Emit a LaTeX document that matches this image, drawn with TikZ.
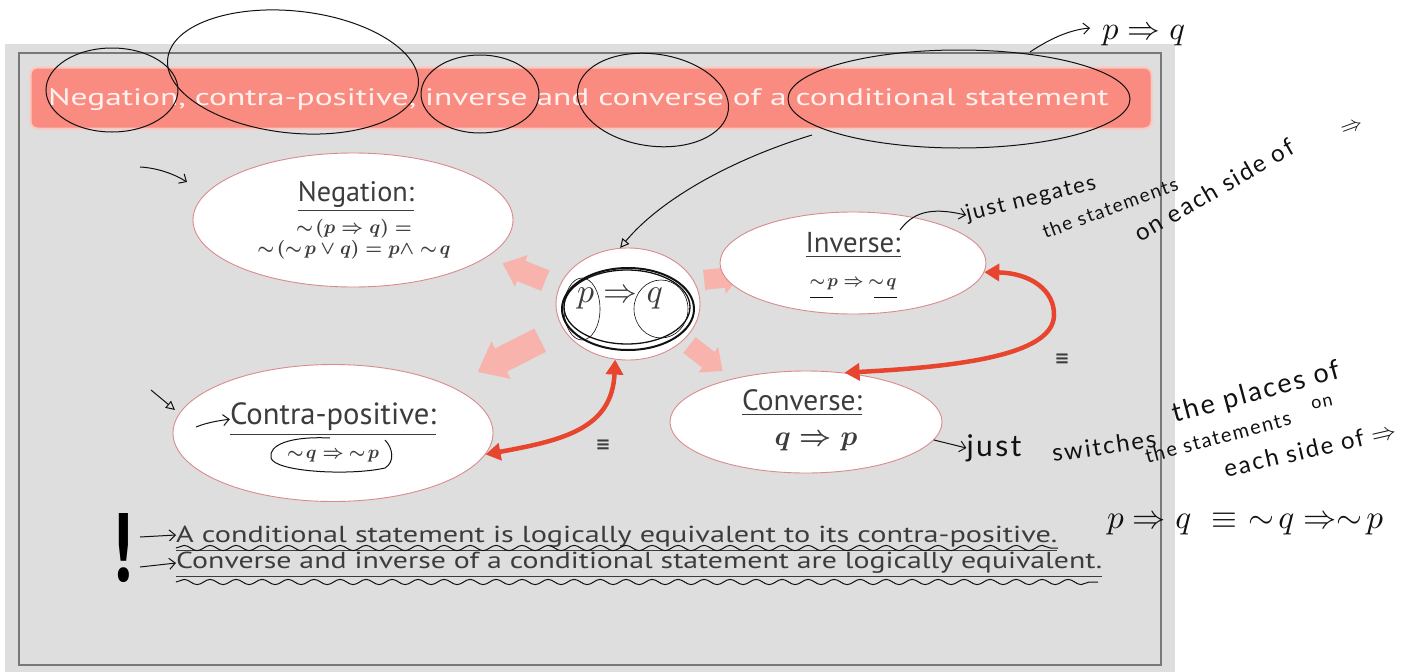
\documentclass[tikz,border=0pt]{standalone}
\usepackage{fontspec}
\usepackage{graphicx}
\setmainfont{PT Sans}
\newfontfamily\hand{Lato}[LetterSpace=8]
\newfontfamily\dejavu{DejaVu Sans}
\usetikzlibrary{shapes.geometric,arrows.meta,decorations.pathmorphing}
\definecolor{bggray}{HTML}{DEDEDE}
\definecolor{framegray}{HTML}{787878}
\definecolor{bannerfill}{HTML}{F98B80}
\definecolor{bannerline}{HTML}{FBC7BF}
\definecolor{titletext}{HTML}{FFF1EE}
\definecolor{ellline}{HTML}{DB8A8E}
\definecolor{palearrow}{HTML}{F7B3AC}
\definecolor{redarrow}{HTML}{E8452F}
\definecolor{slidetext}{HTML}{3C3C3C}
\definecolor{ink}{HTML}{111111}
\newcommand{\fw}[2]{\resizebox{#1}{!}{#2}}
\newcommand{\fwh}[3]{\resizebox{#1}{#2}{#3}}
\newcommand{\hs}[1]{\fontsize{#1}{#1}\selectfont}
% block arrow: x, y, angle, length, head length, head half width, shaft half width
\newcommand{\blockarrow}[7]{%
  \fill[palearrow, shift={(#1,#2)}, rotate=#3]
    (-#4/2,-#7) -- (#4/2-#5,-#7) -- (#4/2-#5,-#6) -- (#4/2,0)
    -- (#4/2-#5,#6) -- (#4/2-#5,#7) -- (-#4/2,#7) -- cycle;}
\tikzset{
  ell/.style={ellipse, draw=ellline, fill=white, line width=0.9pt, inner sep=0pt},
  slide/.style={text=slidetext, inner sep=0pt},
  redlink/.style={draw=redarrow, line width=4.5pt, {Triangle[length=15pt,width=17pt]}-{Triangle[length=15pt,width=17pt]}},
  inkline/.style={draw=ink, line width=1pt},
  inkarrow/.style={inkline, -{Straight Barb[length=6pt,width=11pt]}},
  handtxt/.style={text=ink, inner sep=0pt, font=\hand},
  wavy/.style={inkline, decorate, decoration={snake, segment length=26pt, amplitude=2.6pt}}
}
\begin{document}
\begin{tikzpicture}[x=1pt,y=-1pt]
\useasboundingbox (0,0) rectangle (1411,672);
\fill[white] (0,0) rectangle (1411,672);
\fill[bggray] (5,44) rectangle (1175,672);
\draw[framegray, line width=1.6pt] (19,53) rectangle (1161,665);

% banner
\node[draw=bannerline, fill=bannerfill, line width=2pt, rounded corners=7pt,
      minimum width=1121pt, minimum height=61pt, inner sep=0pt] (banner) at (591,98) {};
\node[text=titletext, inner sep=0pt, anchor=base west] (title) at (48,105)
  {\fwh{1060pt}{17pt}{Negation, contra-positive, inverse and converse of a conditional statement}};

% pale block arrows
\blockarrow{524}{272}{158}{46}{20}{17}{11}
\blockarrow{509}{356}{207}{70}{26}{21}{13}
\blockarrow{722}{278}{6}{36}{16}{16}{10}
\blockarrow{706}{358}{-38}{42}{18}{16}{10}

% ellipses
\node[ell, minimum width=320pt, minimum height=134pt] (neg) at (353,220) {};
\node[ell, minimum width=144pt, minimum height=112pt] (cen) at (628,304) {};
\node[ell, minimum width=266pt, minimum height=102pt] (inv) at (853,263) {};
\node[ell, minimum width=272pt, minimum height=102pt] (conv) at (806,422) {};
\node[ell, minimum width=320pt, minimum height=137pt] (contra) at (333,433) {};

% red double arrows
\draw[redlink] (contra.-8) .. controls (565,440) and (612,428) .. (cen.-103);
\draw[redlink] (conv.52) .. controls (975,366) and (1052,352) .. (1054,316)
   .. controls (1055,290) and (1030,273) .. (inv.-4);
\node[slide] (eq1) at (603,445) {\fw{15pt}{\dejavu\bfseries ≡}};
\node[slide] (eq2) at (1062,359) {\fw{15pt}{\dejavu\bfseries ≡}};

% texts in ellipses
\node[slide, anchor=base] (negT) at (356,201) {\fw{116pt}{\underline{Negation:}}};
\node[slide] (negF1) at (354,229) {\fw{116pt}{\boldmath$\sim\!(p\Rightarrow q)=$}};
\node[slide] (negF2) at (354,250) {\fw{193pt}{\boldmath$\sim\!(\sim\! p\vee q)=p\wedge\sim\! q$}};
\node[slide] (pq) at (620,298) {\fw{86pt}{$p\Rightarrow q$}};
\node[slide, anchor=base] (invT) at (853,252) {\fw{95pt}{\underline{Inverse:}}};
\node[slide] (invF) at (853,284) {\fw{87pt}{\boldmath$\sim\! p\Rightarrow\ \sim\! q$}};
\node[slide, anchor=base] (convT) at (802,410) {\fw{120pt}{\underline{Converse:}}};
\node[slide] (convF) at (816,442) {\fw{83pt}{\boldmath$q\Rightarrow p$}};
\node[slide, anchor=base] (contraT) at (333,424) {\fw{206pt}{\underline{Contra-positive:}}};
\node[slide] (contraF) at (333,456) {\fw{92pt}{\boldmath$\sim\! q\Rightarrow\ \sim\! p$}};

% bottom statements
\node[text=black, inner sep=0pt] (bang) at (123,548) {\fwh{20pt}{68pt}{\bfseries !}};
\node[slide, anchor=base west] (st1) at (176,542)
  {\fwh{881pt}{16.5pt}{\underline{A conditional statement is logically equivalent to its contra-positive.}}};
\node[slide, anchor=base west] (st2) at (176,568)
  {\fwh{926pt}{16.5pt}{\underline{Converse and inverse of a conditional statement are logically equivalent.}}};

% ---------- handwritten annotations ----------
% circles around title words
\draw[inkline] (112,90) ellipse [x radius=66pt, y radius=42pt];
\draw[inkline, rotate around={-6:(293,72)}] (293,72) ellipse [x radius=126pt, y radius=61pt];
\draw[inkline] (480,94) ellipse [x radius=59pt, y radius=39pt];
\draw[inkline, rotate around={-8:(653,100)}] (653,100) ellipse [x radius=76pt, y radius=46pt];
\draw[inkline] (959,99) ellipse [x radius=171pt, y radius=49pt];
\coordinate (c5top) at (1030,52);
\coordinate (c5bot) at (812,135);
\node[handtxt, anchor=west] (pq1) at (1102,36) {\fw{83pt}{$p\Rightarrow q$}};
\draw[inkarrow] (c5top) .. controls (1048,40) and (1068,30) .. (1090,28);
\draw[inkline, -{Triangle[open,length=9pt,width=9pt]}] (c5bot) .. controls (730,160) and (660,200) .. (cen.98);

% circles on p => q
\draw[inkline, line width=2pt] (628,309) ellipse [x radius=66pt, y radius=41pt];
\draw[inkline, line width=1.3pt] (627,307) ellipse [x radius=63pt, y radius=37pt];
\draw[inkline, line width=0.6pt] (582,309) ellipse [x radius=18pt, y radius=31pt];
\draw[inkline, line width=0.6pt] (661,309) ellipse [x radius=27pt, y radius=29pt];

% left arrows
\coordinate (a1s) at (140,167);
\coordinate (a1e) at (187,182);
\draw[inkarrow] (a1s) .. controls (158,168) and (174,174) .. (a1e);
\coordinate (a2s) at (151,390);
\coordinate (a2e) at (175,410);
\draw[inkline, -{Triangle[open,length=9pt,width=9pt]}] (a2s) -- (a2e);
\coordinate (a3s) at (196,427);
\draw[inkarrow] (a3s) .. controls (206,423) and (216,421) .. (contraT.west);
\draw[inkline] (330,438) .. controls (290,436) and (268,445) .. (271,458)
   .. controls (275,472) and (350,476) .. (385,468) .. controls (395,462) and (393,448) .. (385,440);

% inverse underlines
\draw[inkline, line width=0.9pt] (810,297) -- (833,297);
\draw[inkline, line width=0.9pt] (874,297) -- (897,297);

% inverse note
\coordinate (invn) at (900,230);
\node[handtxt, rotate=14] (n1) at (1031,199) {\hs{22}just negates};
\draw[inkarrow] (invn) .. controls (912,214) and (928,206) .. (n1.west);
\node[handtxt, rotate=20] (n2) at (1110,208) {\hs{19}the statements};
\node[handtxt, rotate=30] (n3) at (1214,190) {\hs{24}on each side of};
\node[handtxt, rotate=20] (n4) at (1352,128) {\fw{22pt}{$\Rightarrow$}};

% converse note
\node[handtxt] (m1) at (994,448) {\hs{30}just};
\draw[inkarrow] (conv.-8) -- (m1.west);
\node[handtxt, rotate=8] (m2) at (1104,446) {\hs{24}switches};
\node[handtxt, rotate=15] (m3) at (1256,393) {\hs{27}the places of};
\node[handtxt, rotate=15] (m4) at (1218,437) {\hs{20}the statements};
\node[handtxt, rotate=12] (m5) at (1322,403) {\hs{18}on};
\node[handtxt, rotate=13] (m6) at (1310,449) {\hs{24}each side of $\Rightarrow$};
\node[handtxt] (m7) at (1245,524) {\fw{276pt}{$p\Rightarrow q\ \equiv\ \sim\! q\Rightarrow\sim\! p$}};

% bottom arrows and wavy underlines
\coordinate (b1s) at (140,537);
\coordinate (b1e) at (176,535);
\coordinate (b2s) at (140,567);
\coordinate (b2e) at (176,563);
\draw[inkarrow] (b1s) -- (b1e);
\draw[inkarrow] (b2s) -- (b2e);
\draw[wavy] (176,548) -- (1058,548);
\draw[wavy] (176,582) -- (1098,582);
\end{tikzpicture}
\end{document}
